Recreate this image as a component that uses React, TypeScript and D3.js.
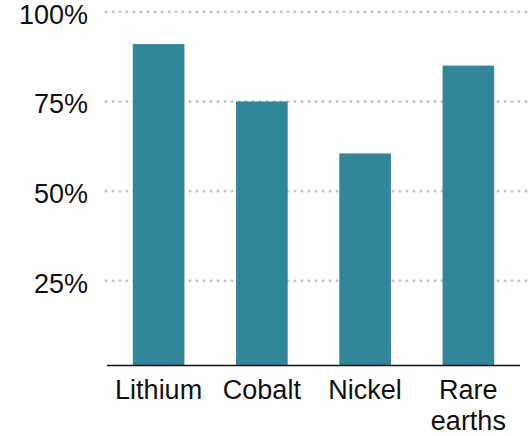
import React from "react";
import * as d3 from "d3";

const categories: string[][] = [["Lithium"], ["Cobalt"], ["Nickel"], ["Rare", "earths"]];
const values: number[] = [91, 75, 60.5, 85];
const yTicks: number[] = [25, 50, 75, 100];

const W = 530;
const H = 436;

export default function App() {
  const x = d3
    .scaleBand<number>()
    .domain(categories.map((_, i) => i))
    .range([107, 520])
    .paddingInner(0.5)
    .paddingOuter(0.25);
  const y = d3.scaleLinear().domain([0, 100]).range([370.4, 11.8]);
  const baseY = 365.5;
  const font = "'Liberation Sans', Arial, sans-serif";

  return (
    <svg
      width={W}
      height={H}
      style={{ position: "absolute", left: 0, top: 0, background: "#fff" }}
      fontFamily={font}
    >
      {yTicks.map((t) => (
        <g key={t}>
          <line
            x1={106}
            x2={W}
            y1={y(t)}
            y2={y(t)}
            stroke="#c4c4c4"
            strokeWidth={3}
            strokeLinecap="round"
            strokeDasharray="0 7"
          />
          <text x={88} y={y(t) + 12} textAnchor="end" fontSize={27} fill="#111">
            {d3.format("d")(t) + "%"}
          </text>
        </g>
      ))}
      {values.map((v, i) => (
        <rect
          key={i}
          x={x(i)!}
          y={y(v)}
          width={x.bandwidth()}
          height={baseY - y(v)}
          fill="#31869a"
        />
      ))}
      <line x1={107} x2={520} y1={baseY} y2={baseY} stroke="#111" strokeWidth={1.5} />
      {categories.map((lines, i) => (
        <text
          key={i}
          x={x(i)! + x.bandwidth() / 2}
          y={399}
          textAnchor="middle"
          fontSize={27}
          fill="#111"
        >
          {lines.map((l, j) => (
            <tspan key={j} x={x(i)! + x.bandwidth() / 2} dy={j === 0 ? 0 : 31}>
              {l}
            </tspan>
          ))}
        </text>
      ))}
    </svg>
  );
}
